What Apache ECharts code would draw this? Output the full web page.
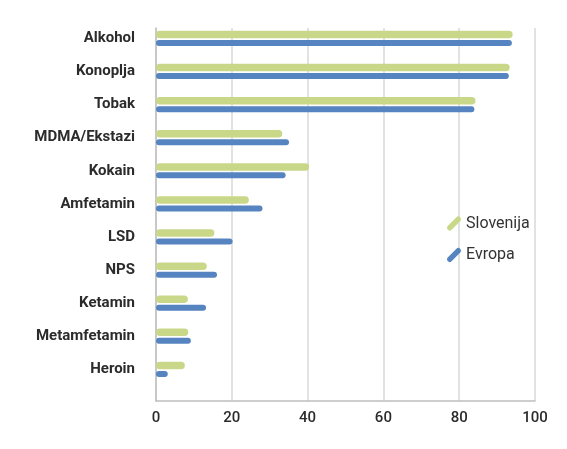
<!DOCTYPE html>
<html>
<head>
<meta charset="utf-8">
<script src="https://cdn.jsdelivr.net/npm/echarts@6/dist/echarts.min.js"></script>
<style>html,body{margin:0;padding:0;background:#fff;}#c{width:567px;height:449px;}</style>
</head>
<body>
<div id="c"></div>
<script>
var categories = ['Alkohol','Konoplja','Tobak','MDMA/Ekstazi','Kokain','Amfetamin','LSD','NPS','Ketamin','Metamfetamin','Heroin'];
var slovenija = [94.1, 93.3, 84.3, 33.3, 40.4, 24.5, 15.4, 13.4, 8.4, 8.5, 7.6];
var evropa = [93.9, 93.1, 84.0, 35.1, 34.2, 28.1, 20.2, 16.1, 13.2, 9.2, 3.1];
var xTicks = [0, 20, 40, 60, 80, 100];
var seriesNames = ['Slovenija', 'Evropa'];

var chart = echarts.init(document.getElementById('c'), null, {renderer: 'canvas'});
var font = 'Roboto, "DejaVu Sans", sans-serif';
var legendIcon = 'path://M6.6,66.6 L66.6,6.6 A19,19 0 0 1 93.4,33.4 L33.4,93.4 A19,19 0 0 1 6.6,66.6 Z';
chart.setOption({
  animation: false,
  grid: [
    {left: 156, right: 32, top: 28, bottom: 48},
    {left: 156, right: 32, top: 21.85, bottom: 63.15}
  ],
  legend: {
    orient: 'vertical',
    left: 442,
    top: 210.5,
    itemWidth: 14,
    itemHeight: 14,
    itemGap: 15.5,
    icon: legendIcon,
    data: seriesNames,
    textStyle: {fontFamily: font, fontSize: 16, color: '#333'}
  },
  xAxis: [
    {
      gridIndex: 0, type: 'value', min: 0, max: 100, interval: 20,
      axisLine: {show: true, lineStyle: {color: '#bfbfbf', width: 1.5}},
      axisTick: {show: false},
      splitLine: {show: true, lineStyle: {color: '#d9d9d9', width: 1.5}},
      axisLabel: {
        margin: 10, fontFamily: font, fontSize: 15, fontWeight: 500, color: '#2b2b2b',
        formatter: function (v) { return xTicks.indexOf(v) >= 0 ? String(v) : ''; }
      }
    },
    {
      gridIndex: 1, type: 'value', min: 0, max: 100, interval: 20, show: false
    }
  ],
  yAxis: [
    {
      gridIndex: 0, type: 'value', min: 0, max: 1,
      axisLine: {show: true, lineStyle: {color: '#bfbfbf', width: 1.5}},
      axisTick: {show: false}, axisLabel: {show: false}, splitLine: {show: false}
    },
    {
      gridIndex: 1, type: 'category', inverse: true, data: categories,
      axisLine: {show: false}, axisTick: {show: false},
      axisLabel: {margin: 21, fontFamily: font, fontSize: 15, fontWeight: 'bold', color: '#2b2b2b'}
    }
  ],
  series: [
    {
      name: seriesNames[0], type: 'bar', xAxisIndex: 1, yAxisIndex: 1,
      data: slovenija, barWidth: 7.5, barGap: '23%',
      itemStyle: {color: '#c8d888', borderRadius: 3.75}
    },
    {
      name: seriesNames[1], type: 'bar', xAxisIndex: 1, yAxisIndex: 1,
      data: evropa, barWidth: 6,
      itemStyle: {color: '#5584c0', borderRadius: 3}
    }
  ]
});
</script>
</body>
</html>
